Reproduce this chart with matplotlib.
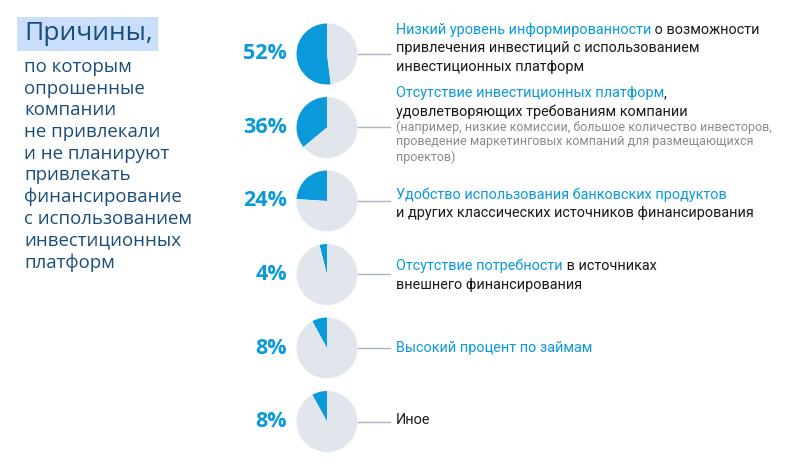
import matplotlib.pyplot as plt

BLUE = "#0a9ad9"
PIE_GRAY = "#e1e6ed"
LINE_GRAY = "#aab4c0"
NAVY = "#1a4d7c"
BLACK = "#1a1a1a"
NOTE_GRAY = "#8a8a8a"
TITLE_BG = "#c9defa"

# data
shares = [52, 36, 24, 4, 8, 8]
share_labels = ["52%", "36%", "24%", "4%", "8%", "8%"]

# each reason: list of lines, each line a list of (text, colour)
reasons = [
    [[("Низкий уровень информированности", BLUE), (" о возможности", BLACK)],
     [("привлечения инвестиций с использованием", BLACK)],
     [("инвестиционных платформ", BLACK)]],
    [[("Отсутствие инвестиционных платформ", BLUE), (",", BLACK)],
     [("удовлетворяющих требованиям компании", BLACK)]],
    [[("Удобство использования банковских продуктов", BLUE)],
     [("и других классических источников финансирования", BLACK)]],
    [[("Отсутствие потребности", BLUE), (" в источниках", BLACK)],
     [("внешнего финансирования", BLACK)]],
    [[("Высокий процент по займам", BLUE)]],
    [[("Иное", BLACK)]],
]
notes = [
    [],
    ["(например, низкие комиссии, большое количество инвесторов,",
     "проведение маркетинговых компаний для размещающихся",
     "проектов)"],
    [], [], [], [],
]

title = "Причины,"
subtitle = ["по которым", "опрошенные", "компании", "не привлекали",
            "и не планируют", "привлекать", "финансирование",
            "с использованием", "инвестиционных", "платформ"]

# layout (pixel coords, y from top)
H = 473
row_y = [54, 127.5, 201, 274.5, 348, 421.5]
text_first_y = [30, 93, 195, 266, 348, 420]
pie_x = 327
pie_r = 30.5

fig = plt.figure(figsize=(8, 4.73), dpi=100)
ax = fig.add_axes([0, 0, 1, 1])

for v, cy in zip(shares, row_y):
    ax.pie([v, 100 - v], colors=[BLUE, PIE_GRAY], startangle=90,
           counterclock=True, center=(pie_x, H - cy), radius=pie_r,
           frame=True, wedgeprops=dict(linewidth=0))

for lab, cy in zip(share_labels, row_y):
    ax.text(287, H - cy, lab, ha="right", va="center", color=BLUE,
            fontsize=15.5, fontweight="bold", family="Open Sans")
    ax.plot([358, 390], [H - cy, H - cy], color=LINE_GRAY, lw=1)

for lines, note, y0 in zip(reasons, notes, text_first_y):
    y = y0
    for line in lines:
        prev = None
        for seg, col in line:
            if prev is None:
                prev = ax.text(396, H - y, seg, color=col, fontsize=10.4,
                               family="Roboto", ha="left", va="center")
            else:
                prev = ax.annotate(seg, xy=(1, 0), xycoords=prev, color=col,
                                   fontsize=10.4, family="Roboto",
                                   ha="left", va="bottom")
        y += 18.5
    y -= 3
    for n in note:
        ax.text(396, H - y, n, color=NOTE_GRAY, fontsize=9.0,
                family="Roboto", ha="left", va="center")
        y += 15

# title block
ax.add_patch(plt.Rectangle((17, H - 51), 141, 34, color=TITLE_BG, lw=0))
ax.text(24, H - 34, title, color=NAVY, fontsize=19, family="Open Sans",
        ha="left", va="center")
for i, s in enumerate(subtitle):
    ax.text(24, H - (67 + i * 21.7), s, color=NAVY, fontsize=13.4,
            family="Open Sans", ha="left", va="center")

ax.set_xlim(0, 800)
ax.set_ylim(0, H)
ax.set_aspect("auto")
ax.axis("off")

fig.savefig("out.png", dpi=100, facecolor="white")
